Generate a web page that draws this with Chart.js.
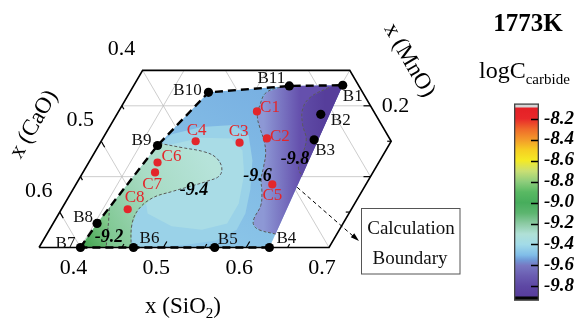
<!DOCTYPE html>
<html><head><meta charset="utf-8">
<script src="https://cdn.jsdelivr.net/npm/chart.js@4.4.1/dist/chart.umd.min.js"></script>
<style>
html,body{margin:0;padding:0;background:#fff;}
#wrap{position:relative;width:578px;height:324px;overflow:hidden;background:#fff;}
#main{position:absolute;left:0;top:0;}
#cbar{position:absolute;left:509px;top:87px;}
</style></head><body>
<div id="wrap"><canvas id="main" width="578" height="324"></canvas><canvas id="cbar" width="69" height="230"></canvas></div>
<script>
// ================= DATA (compositions: x(SiO2), x(MnO); x(CaO) = 1 - SiO2 - MnO) =================
const bNames = ['B1','B2','B3','B4','B5','B6','B7','B8','B9','B10','B11'];
const bSiO2  = [0.602,0.596,0.606,0.628,0.562,0.464,0.400,0.403,0.421,0.445,0.538];
const bMnO   = [0.229,0.188,0.152,0.000,0.000,0.000,0.000,0.034,0.144,0.219,0.228];

const cNames = ['C1','C2','C3','C4','C5','C6','C7','C8'];
const cSiO2  = [0.517,0.548,0.518,0.464,0.587,0.433,0.437,0.430];
const cMnO   = [0.192,0.154,0.148,0.150,0.089,0.120,0.106,0.054];

// calculation boundary (dashed) paths and filled region, by point name
const boundaryUpper = ['B7','B8','B9','B10','B11','B1'];
const boundaryLower = ['B4','B5','B6','B7'];
const regionOrder   = ['B7','B8','B9','B10','B11','B1','B4','B5','B6'];

// iso-logC contour lines
const contourLevels = [-9.2, -9.4, -9.6, -9.8];
const contour92 = [[0.407,0.056],[0.415,0.038],[0.423,0.019],[0.431,0.000]];
const contour94 = [[0.422,0.147],[0.452,0.141],[0.482,0.135],[0.500,0.127],[0.514,0.113],[0.517,0.101],[0.507,0.094],[0.491,0.087],[0.471,0.079],[0.452,0.070],[0.443,0.053],[0.446,0.032],[0.461,0.000]];
const contour96 = [[0.533,0.228],[0.515,0.219],[0.516,0.201],[0.521,0.185],[0.532,0.169],[0.546,0.151],[0.557,0.133],[0.564,0.114],[0.570,0.096],[0.580,0.078],[0.588,0.059],[0.589,0.041],[0.593,0.032],[0.603,0.025],[0.626,0.019]];
const contour98 = [[0.587,0.226],[0.572,0.213],[0.570,0.197],[0.581,0.174],[0.596,0.153],[0.602,0.133],[0.606,0.114],[0.617,0.100]];
const contourLabelAt = [[0.427,0.015],[0.497,0.080],[0.563,0.101],[0.597,0.124]];

// intermediate shading bands (about -9.45 and -9.42)
const band945 = [[0.419,0.134],[0.430,0.160],[0.461,0.170],[0.498,0.173],[0.524,0.158],[0.546,0.123],[0.564,0.082],[0.575,0.048],[0.576,0.025],[0.559,0.010],[0.526,0.004],[0.464,0.000],[0.417,0.069]];
const band943 = [[0.432,0.144],[0.468,0.155],[0.505,0.154],[0.527,0.137],[0.546,0.103],[0.560,0.062],[0.560,0.034],[0.534,0.025],[0.495,0.030],[0.457,0.048],[0.427,0.096]];

// ternary axes ticks and window
const sio2Ticks = [0.4, 0.5, 0.6, 0.7];
const caoTicks  = [0.4, 0.5, 0.6];
const mnoTicks  = [0.2];
const gridSiO2 = [0.4, 0.5, 0.6];
const gridCaO  = [0.2, 0.3, 0.4, 0.5, 0.6];
const gridMnO  = [0.1, 0.2];
const sMin = 0.35, sMax = 0.70, mMax = 0.25, cMin = 0.15;

// colour bar
const cbTicks = [-8.2,-8.4,-8.6,-8.8,-9.0,-9.2,-9.4,-9.6,-9.8];
const cbMin = -9.9, cbMax = -8.09, cbBottom = -9.935, cbTop = -8.055;
const cbStopValues = [-9.9,-9.8,-9.7,-9.6,-9.55,-9.5,-9.4,-9.3,-9.2,-9.1,-9.0,-8.9,-8.8,-8.7,-8.6,-8.5,-8.4,-8.3,-8.2,-8.09];
const cbStopColors = ['#573c9b','#5d47a3','#6a5cb1','#7878c2','#6f98d6','#80bde8','#a2dbe8','#b0e0d6','#8ccaa3','#5cb56f','#47ad5c','#59b963','#8fcd7c','#c9df74','#f4ea25','#f6cf22','#f39a2a','#ef6a2a','#e8282a','#e41f26'];

// ================= helpers =================
const SQ = Math.sqrt(3) / 2;
const T = (s, m) => ({ x: s + m / 2, y: m * SQ });
const SERIF = '"Liberation Serif","Times New Roman",serif';
const bIdx = n => bNames.indexOf(n);
const byName = names => names.map(n => T(bSiO2[bIdx(n)], bMnO[bIdx(n)]));
const fromPairs = arr => arr.map(p => T(p[0], p[1]));
function pix(chart, s, m) { const p = T(s, m); return { x: chart.scales.x.getPixelForValue(p.x), y: chart.scales.y.getPixelForValue(p.y) }; }
function grad(chart, a, b, stops, fallback) {
  if (!chart.chartArea) return fallback;
  const p0 = pix(chart, a[0], a[1]), p1 = pix(chart, b[0], b[1]);
  const g = chart.ctx.createLinearGradient(p0.x, p0.y, p1.x, p1.y);
  stops.forEach(([o, c]) => g.addColorStop(o, c));
  return g;
}
function poly(points, bg, order) {
  return { data: points, showLine: true, pointRadius: 0, borderWidth: 0, borderColor: 'rgba(0,0,0,0)', fill: 'shape', tension: 0, backgroundColor: bg, order };
}
function line(points, color, width, dash, order, tension) {
  return { data: points, showLine: true, pointRadius: 0, borderWidth: width, borderColor: color, borderDash: dash || [], fill: false, tension: tension || 0, order };
}

// grid segments clipped to the plotted window
const gridSegs = [];
gridSiO2.forEach(s => gridSegs.push([T(s, 0), T(s, Math.min(mMax, 1 - s - cMin))]));
gridMnO.forEach(m => gridSegs.push([T(sMin, m), T(Math.min(sMax, 1 - cMin - m), m)]));
gridCaO.forEach(c => {
  const m0 = Math.max(0, 1 - c - sMax), m1 = Math.min(mMax, 1 - c - sMin);
  if (m1 > m0) gridSegs.push([T(1 - c - m0, m0), T(1 - c - m1, m1)]);
});
const frame = [T(sMin,0), T(sMax,0), T(sMax,1-cMin-sMax), T(1-cMin-mMax,mMax), T(sMin,mMax), T(sMin,0)];

// ================= main ternary chart =================
const datasets = [];
gridSegs.forEach(seg => datasets.push(line(seg, '#c0c0c0', 0.8, [], 100)));
datasets.push(poly(byName(regionOrder), ctx => grad(ctx.chart, [0.5,0.23], [0.5,0], [[0,'#78b0e2'],[1,'#8fcae9']], '#85c0e8'), 90));
datasets.push(poly(fromPairs(band945), '#9ad2e8', 89));
datasets.push(poly(fromPairs(band943), '#a9dce6', 88));
datasets.push(poly(fromPairs(contour94.concat([[0.400,0.000],[0.403,0.034],[0.421,0.144]])),
  ctx => grad(ctx.chart, [0.505,0.11], [0.402,0.015], [[0,'#b6e3da'],[0.45,'#a8dbc4'],[1,'#72c181']], '#a8dbc4'), 87));
datasets.push(poly(fromPairs(contour92.concat([[0.400,0.000],[0.403,0.034]])),
  ctx => grad(ctx.chart, [0.418,0.035], [0.400,0.0], [[0,'#82c98c'],[1,'#3ea14d']], '#5cb865'), 86));
datasets.push(poly(fromPairs(contour96.concat([[0.602,0.229]])),
  ctx => grad(ctx.chart, [0.556,0.13], [0.600,0.13], [[0,'#8d98d5'],[1,'#6550ad']], '#7a78c2'), 85));
datasets.push(poly(fromPairs(contour98.concat([[0.602,0.229]])),
  ctx => grad(ctx.chart, [0.598,0.14], [0.625,0.14], [[0,'#5f4ba6'],[1,'#563e9b']], '#5b45a0'), 84));
datasets.push(line(frame, '#000', 1.6, [], 70));
[contour92, contour94, contour96, contour98].forEach(cn => datasets.push(line(fromPairs(cn), '#5a5a5a', 1, [3,2], 60, 0.4)));
datasets.push(line(byName(boundaryUpper), '#000', 2.4, [8,5], 50));
datasets.push(line(byName(boundaryLower), '#000', 2.4, [8,5], 50));
datasets.push({ data: bNames.map((n,i) => T(bSiO2[i], bMnO[i])), pointRadius: 4.6, pointBackgroundColor: '#000', pointBorderWidth: 0, showLine: false, order: 40 });
datasets.push({ data: cNames.map((n,i) => T(cSiO2[i], cMnO[i])), pointRadius: 4.1, pointBackgroundColor: '#e3262b', pointBorderWidth: 0, showLine: false, order: 30 });

// label placement offsets (pixels, from each point)
const bLabelOff = { B1:[10,11], B2:[20,6], B3:[11,11], B4:[17,-9], B5:[13,-8], B6:[16,-9], B7:[-15,-4], B8:[-14,-6], B9:[-16,-5], B10:[-21,-2], B11:[-18,-7] };
const cLabelOff = { C1:[13,-4], C2:[13,-2], C3:[-1,-11], C4:[1,-11], C5:[0,11], C6:[14,-6], C7:[-3,12], C8:[7,-12] };

function drawSub(c, parts, cx, cy, rot) {
  c.save();
  c.translate(cx, cy); c.rotate(rot || 0);
  let w = 0;
  parts.forEach(p => { c.font = p.f; p.w = c.measureText(p.t).width; w += p.w; });
  let x = -w / 2;
  c.textBaseline = 'alphabetic'; c.textAlign = 'left'; c.fillStyle = '#000';
  parts.forEach(p => { c.font = p.f; c.fillText(p.t, x, (p.dy || 0) + 7); x += p.w; });
  c.restore();
}

const ternaryText = {
  id: 'ternaryText',
  afterDatasetsDraw(chart) {
    const c = chart.ctx;
    c.save();
    // tick marks
    c.strokeStyle = '#000'; c.lineWidth = 1.2;
    const tick = (p, dx, dy, len) => { c.beginPath(); c.moveTo(p.x, p.y); c.lineTo(p.x + dx * len, p.y + dy * len); c.stroke(); };
    [0.4,0.45,0.5,0.55,0.6,0.65].forEach((s,i) => tick(pix(chart, s, 0), 0.5, -SQ, i % 2 ? 4 : 7));
    [0.45,0.5,0.55,0.6].forEach((cv,i) => tick(pix(chart, sMin, 1 - sMin - cv), 0.5, SQ, i % 2 ? 7 : 4));
    [0.05,0.1,0.15,0.2].forEach((m,i) => tick(pix(chart, Math.min(sMax, 1 - cMin - m), m), -1, 0, i % 2 ? 7 : 4));

    c.textAlign = 'center'; c.textBaseline = 'middle';
    // ternary tick labels
    c.fillStyle = '#000'; c.font = '22px ' + SERIF;
    sio2Ticks.forEach(s => { const p = pix(chart, s, 0); c.fillText(s.toFixed(1), p.x - 7, p.y + 21); });
    caoTicks.forEach(cv => { const p = pix(chart, sMin, 1 - sMin - cv); c.fillText(cv.toFixed(1), p.x - 21, p.y - 21); });
    mnoTicks.forEach(m => { const p = pix(chart, 1 - cMin - m, m); c.fillText(m.toFixed(1), p.x + 25, p.y); });

    // point labels
    c.font = '17px ' + SERIF; c.fillStyle = '#111';
    bNames.forEach((n,i) => { const p = pix(chart, bSiO2[i], bMnO[i]); const o = bLabelOff[n]; c.fillText(n, p.x + o[0], p.y + o[1]); });
    c.fillStyle = '#e3262b';
    cNames.forEach((n,i) => { const p = pix(chart, cSiO2[i], cMnO[i]); const o = cLabelOff[n]; c.fillText(n, p.x + o[0], p.y + o[1]); });

    // contour level labels
    c.fillStyle = '#000'; c.font = 'italic bold 18px ' + SERIF;
    contourLevels.forEach((lv,i) => { const p = pix(chart, contourLabelAt[i][0], contourLabelAt[i][1]); c.fillText(lv.toFixed(1), p.x, p.y); });

    // axis titles
    drawSub(c, [{t:'x (SiO', f:'23px ' + SERIF}, {t:'2', f:'15px ' + SERIF, dy:5}, {t:')', f:'23px ' + SERIF}], 183, 306, 0);
    drawSub(c, [{t:'x (CaO)', f:'23px ' + SERIF}], 33, 124, -Math.PI / 3);
    drawSub(c, [{t:'x (MnO)', f:'23px ' + SERIF}], 410, 60, Math.PI / 3);

    // header texts
    c.textAlign = 'center'; c.textBaseline = 'alphabetic'; c.fillStyle = '#000';
    c.font = 'bold 25px ' + SERIF; c.fillText('1773K', 528, 31);
    c.textAlign = 'left';
    c.font = '24px ' + SERIF; c.fillText('logC', 479, 78);
    const wl = c.measureText('logC').width;
    c.font = '15px ' + SERIF; c.fillText('carbide', 479 + wl, 84);

    // "Calculation Boundary" annotation
    c.strokeStyle = '#555'; c.lineWidth = 1; c.setLineDash([]);
    c.strokeRect(361.5, 208.5, 98.5, 65.5);
    c.textAlign = 'center'; c.textBaseline = 'middle'; c.font = '19px ' + SERIF; c.fillStyle = '#111';
    c.fillText('Calculation', 411, 229);
    c.fillText('Boundary', 410, 259);
    const a0 = pix(chart, 0.619, 0.085), a1 = { x: 359, y: 241 };
    c.strokeStyle = '#000'; c.lineWidth = 1; c.setLineDash([4,3]);
    c.beginPath(); c.moveTo(a0.x, a0.y); c.lineTo(a1.x - 6, a1.y - 5); c.stroke();
    c.setLineDash([]);
    const ang = Math.atan2(a1.y - a0.y, a1.x - a0.x);
    c.beginPath(); c.moveTo(a1.x, a1.y);
    c.lineTo(a1.x - 9 * Math.cos(ang - 0.3), a1.y - 9 * Math.sin(ang - 0.3));
    c.lineTo(a1.x - 9 * Math.cos(ang + 0.3), a1.y - 9 * Math.sin(ang + 0.3));
    c.closePath(); c.fillStyle = '#000'; c.fill();
    c.restore();
  }
};

new Chart(document.getElementById('main'), {
  type: 'scatter',
  data: { datasets },
  options: {
    responsive: false, animation: false, devicePixelRatio: 1,
    layout: { padding: 0 },
    scales: {
      x: { type: 'linear', min: 0.30843, max: 0.99489, display: false },
      y: { type: 'linear', min: -0.08789, max: 0.29691, display: false }
    },
    plugins: { legend: { display: false }, tooltip: { enabled: false } },
    events: []
  },
  plugins: [ternaryText]
});

// ================= colour bar chart =================
const cbInnerTicks = {
  id: 'cbInnerTicks',
  afterDatasetsDraw(chart) {
    const c = chart.ctx, y = chart.scales.y, r = chart.chartArea.right;
    c.save(); c.strokeStyle = '#000'; c.lineWidth = 1.5;
    y.ticks.forEach(t => { const py = Math.round(y.getPixelForValue(t.value)) + 0.5; c.beginPath(); c.moveTo(r - 8, py); c.lineTo(r - 1, py); c.stroke(); });
    c.restore();
  }
};
new Chart(document.getElementById('cbar'), {
  type: 'bar',
  data: {
    labels: [''],
    datasets: [
      { data: [[cbBottom, cbTop]], backgroundColor: 'rgba(0,0,0,0)', borderColor: '#444', borderWidth: 1, borderSkipped: false },
      { data: [[cbMax, cbTop]], backgroundColor: '#d6d6d6' },
      { data: [[cbBottom, cbMin]], backgroundColor: '#050505' },
      { data: [[cbMin, cbMax]], backgroundColor: ctx => {
          const ch = ctx.chart; if (!ch.chartArea) return '#888';
          const y = ch.scales.y;
          const g = ch.ctx.createLinearGradient(0, y.getPixelForValue(cbMin), 0, y.getPixelForValue(cbMax));
          cbStopValues.forEach((v,i) => g.addColorStop((v - cbMin) / (cbMax - cbMin), cbStopColors[i]));
          return g;
        } }
    ]
  },
  options: {
    responsive: false, animation: false, devicePixelRatio: 1,
    layout: { padding: { left: 5, right: 0, top: 10, bottom: 10 } },
    datasets: { bar: { barPercentage: 1, categoryPercentage: 1, grouped: false } },
    scales: {
      x: { display: false },
      y: {
        position: 'right', min: cbBottom, max: cbTop,
        afterBuildTicks: s => { s.ticks = cbTicks.map(v => ({ value: v })); },
        afterFit: s => { s.width = 39; },
        grid: { display: false, drawTicks: false },
        border: { display: false },
        ticks: { autoSkip: false, padding: 5, color: '#000', font: { family: SERIF, size: 19, style: 'italic', weight: 'bold' }, callback: v => Number(v).toFixed(1) }
      }
    },
    plugins: { legend: { display: false }, tooltip: { enabled: false } },
    events: []
  },
  plugins: [cbInnerTicks]
});
</script>
</body></html>
